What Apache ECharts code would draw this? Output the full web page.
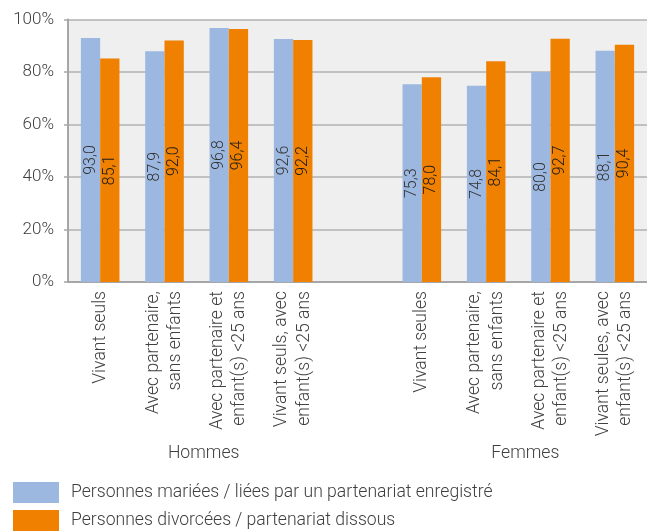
<!DOCTYPE html>
<html>
<head>
<meta charset="utf-8">
<script src="https://cdn.jsdelivr.net/npm/echarts@6/dist/echarts.min.js"></script>
<style>
  html, body { margin: 0; padding: 0; background: #fff; }
  #chart { width: 647px; height: 531px; }
</style>
</head>
<body>
<div id="chart"></div>
<script>
// Household situations, men then women (an empty slot separates the two groups)
const categories = [
  'Vivant seuls',
  'Avec partenaire,\nsans enfants',
  'Avec partenaire et\nenfant(s) <25 ans',
  'Vivant seuls, avec\nenfant(s) <25 ans',
  '',
  'Vivant seules',
  'Avec partenaire,\nsans enfants',
  'Avec partenaire et\nenfant(s) <25 ans',
  'Vivant seules, avec\nenfant(s) <25 ans'
];
const groupNames = ['Hommes', 'Femmes'];
const seriesNames = [
  'Personnes mariées / liées par un partenariat enregistré',
  'Personnes divorcées / partenariat dissous'
];
const married = [93.0, 87.9, 96.8, 92.6, null, 75.3, 74.8, 80.0, 88.1];
const divorced = [85.1, 92.0, 96.4, 92.2, null, 78.0, 84.1, 92.7, 90.4];
const yTicks = [0, 20, 40, 60, 80, 100];

const FONT = 'Roboto, "Noto Sans", sans-serif';
const BLUE = '#9db8e0';
const ORANGE = '#f08000';
const TEXT = '#404040';

const fmt = v => v.toFixed(1).replace('.', ',');

const chart = echarts.init(document.getElementById('chart'), null, { renderer: 'canvas' });

function barLabel(color) {
  return {
    show: true,
    position: 'inside',
    rotate: 90,
    fontFamily: FONT,
    fontWeight: 300,
    fontSize: 16,
    color: color,
    formatter: p => fmt(p.value)
  };
}

// One legend block per series, stacked vertically
function legendItem(name, top) {
  return {
    left: 13, top: top, padding: 0,
    itemWidth: 46, itemHeight: 21,
    icon: 'rect',
    selectedMode: false,
    textStyle: { fontFamily: FONT, fontWeight: 300, fontSize: 17.6, color: TEXT, padding: [0, 0, 0, 7] },
    data: [name]
  };
}

chart.setOption({
  animation: false,
  textStyle: { fontFamily: FONT },
  grid: {
    left: 68, top: 19.5, right: -6.5, bottom: 249,
    show: true, backgroundColor: '#efefef', borderWidth: 0
  },
  legend: [legendItem(seriesNames[0], 482), legendItem(seriesNames[1], 510)],
  xAxis: {
    type: 'category',
    data: categories,
    axisLine: { lineStyle: { color: '#a6a6a6', width: 2 } },
    axisTick: { show: false },
    axisLabel: {
      interval: 0, rotate: 90, margin: 9,
      fontFamily: FONT, fontWeight: 300, fontSize: 17.6, lineHeight: 22.5, color: TEXT
    }
  },
  yAxis: {
    type: 'value',
    min: yTicks[0], max: yTicks[yTicks.length - 1], interval: 20,
    axisLine: { show: true, lineStyle: { color: '#a6a6a6', width: 2 } },
    axisTick: { show: true, length: 4, lineStyle: { color: '#a6a6a6', width: 1.5 } },
    splitLine: { lineStyle: { color: '#b2b2b2', width: 1.5 } },
    axisLabel: {
      margin: 14,
      fontFamily: FONT, fontWeight: 300, fontSize: 17, color: TEXT,
      formatter: '{value}%'
    }
  },
  series: [
    {
      name: seriesNames[0], type: 'bar', data: married,
      itemStyle: { color: BLUE },
      barGap: '0%', barCategoryGap: '40%',
      label: barLabel('#333333')
    },
    {
      name: seriesNames[1], type: 'bar', data: divorced,
      itemStyle: { color: ORANGE },
      barGap: '0%', barCategoryGap: '40%',
      label: barLabel('#1a1a1a')
    }
  ]
});

// Group captions centred under each block of four categories
function placeGroups() {
  const y = chart.convertToPixel({ yAxisIndex: 0 }, 0);
  const mid = (a, b) => (chart.convertToPixel({ xAxisIndex: 0 }, a) + chart.convertToPixel({ xAxisIndex: 0 }, b)) / 2;
  const xs = [mid(1, 2), mid(6, 7)];
  chart.setOption({
    graphic: groupNames.map((name, i) => ({
      type: 'text',
      x: xs[i] + 7, y: y + 172,
      style: {
        text: name, fontFamily: FONT, fontWeight: 300, fontSize: 17.6,
        fill: TEXT, align: 'center', verticalAlign: 'middle'
      }
    }))
  });
}
placeGroups();
</script>
</body>
</html>
